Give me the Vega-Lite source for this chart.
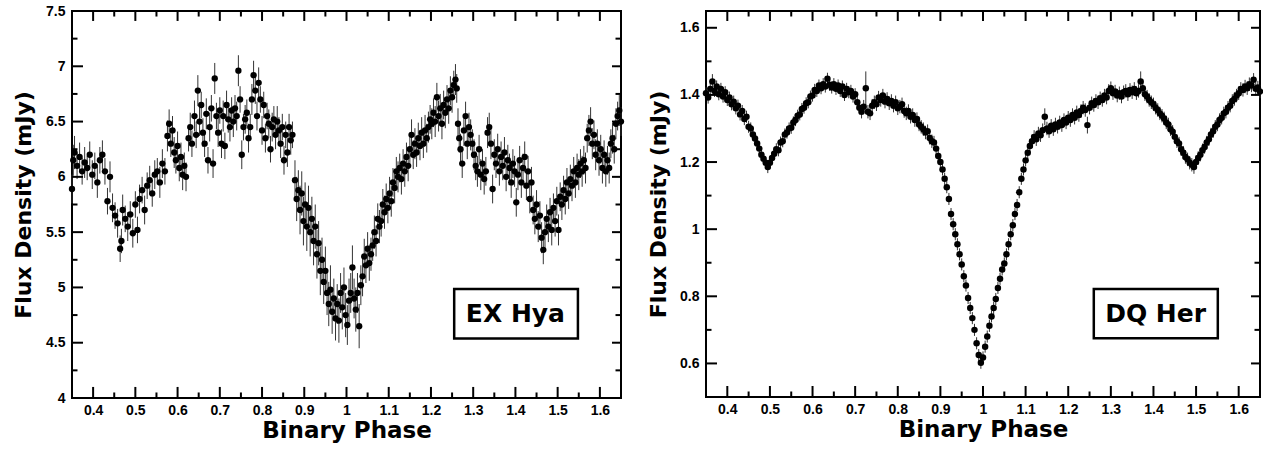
{
"$schema": "https://vega.github.io/schema/vega-lite/v6.json",
"background": "white",
"padding": {"left": 11, "top": 3, "right": 2, "bottom": 0},
"spacing": 20,
"config": {
 "view": {"stroke": "black", "strokeWidth": 2},
 "axis": {"domain": false, "grid": false, "ticks": false, "labelFont": "Liberation Sans", "labelFontWeight": "bold", "labelFontSize": 14, "labelColor": "black", "labelFlush": false, "labelOverlap": false, "titleFont": "DejaVu Sans", "titleFontWeight": "bold", "titleColor": "black"}
},
"datasets": {
 "xmaj": [{"phase":0.4},{"phase":0.5},{"phase":0.6},{"phase":0.7},{"phase":0.8},{"phase":0.9},{"phase":1.0},{"phase":1.1},{"phase":1.2},{"phase":1.3},{"phase":1.4},{"phase":1.5},{"phase":1.6}],
 "xmin": [{"phase":0.45},{"phase":0.55},{"phase":0.65},{"phase":0.75},{"phase":0.85},{"phase":0.95},{"phase":1.05},{"phase":1.15},{"phase":1.25},{"phase":1.35},{"phase":1.45},{"phase":1.55}],
 "eymaj": [{"flux":4.5},{"flux":5},{"flux":5.5},{"flux":6},{"flux":6.5},{"flux":7}],
 "eymin": [{"flux":4.25},{"flux":4.75},{"flux":5.25},{"flux":5.75},{"flux":6.25},{"flux":6.75},{"flux":7.25}],
 "dymaj": [{"flux":0.6},{"flux":0.8},{"flux":1.0},{"flux":1.2},{"flux":1.4},{"flux":1.6}],
 "dymin": [{"flux":0.7},{"flux":0.9},{"flux":1.1},{"flux":1.3},{"flux":1.5}],
 "exhya": [
{"phase":0.350,"flux":5.89,"err":0.13},{"phase":0.353,"flux":6.15,"err":0.14},{"phase":0.356,"flux":6.22,"err":0.15},{"phase":0.362,"flux":6.10,"err":0.12},{"phase":0.368,"flux":6.18,"err":0.13},{"phase":0.374,"flux":6.05,"err":0.12},{"phase":0.380,"flux":6.13,"err":0.14},{"phase":0.386,"flux":6.08,"err":0.11},{"phase":0.392,"flux":6.20,"err":0.12},{"phase":0.398,"flux":6.02,"err":0.13},{"phase":0.404,"flux":6.10,"err":0.12},{"phase":0.410,"flux":5.95,"err":0.14},{"phase":0.416,"flux":6.15,"err":0.12},{"phase":0.422,"flux":6.20,"err":0.13},{"phase":0.428,"flux":6.05,"err":0.12},{"phase":0.434,"flux":5.78,"err":0.12},{"phase":0.440,"flux":6.00,"err":0.14},{"phase":0.446,"flux":5.72,"err":0.13},{"phase":0.452,"flux":5.65,"err":0.12},{"phase":0.458,"flux":5.58,"err":0.13},{"phase":0.464,"flux":5.35,"err":0.12},{"phase":0.467,"flux":5.42,"err":0.11},{"phase":0.470,"flux":5.70,"err":0.14},{"phase":0.476,"flux":5.62,"err":0.12},{"phase":0.482,"flux":5.55,"err":0.13},{"phase":0.488,"flux":5.66,"err":0.12},{"phase":0.494,"flux":5.49,"err":0.13},{"phase":0.500,"flux":5.75,"err":0.12},{"phase":0.505,"flux":5.52,"err":0.12},{"phase":0.510,"flux":5.80,"err":0.13},{"phase":0.516,"flux":5.88,"err":0.12},{"phase":0.522,"flux":5.70,"err":0.13},{"phase":0.528,"flux":5.92,"err":0.12},{"phase":0.534,"flux":5.97,"err":0.13},{"phase":0.540,"flux":5.85,"err":0.12},{"phase":0.546,"flux":6.02,"err":0.13},{"phase":0.552,"flux":6.05,"err":0.12},{"phase":0.558,"flux":5.95,"err":0.14},{"phase":0.564,"flux":6.12,"err":0.13},{"phase":0.570,"flux":6.05,"err":0.12},{"phase":0.576,"flux":6.37,"err":0.14},{"phase":0.580,"flux":6.48,"err":0.13},{"phase":0.584,"flux":6.30,"err":0.12},{"phase":0.588,"flux":6.42,"err":0.13},{"phase":0.592,"flux":6.22,"err":0.14},{"phase":0.596,"flux":6.15,"err":0.12},{"phase":0.600,"flux":6.28,"err":0.13},{"phase":0.604,"flux":6.08,"err":0.12},{"phase":0.608,"flux":6.18,"err":0.13},{"phase":0.612,"flux":6.02,"err":0.14},{"phase":0.616,"flux":6.10,"err":0.12},{"phase":0.620,"flux":6.00,"err":0.13},{"phase":0.626,"flux":6.35,"err":0.12},{"phase":0.630,"flux":6.45,"err":0.13},{"phase":0.634,"flux":6.30,"err":0.12},{"phase":0.640,"flux":6.55,"err":0.14},{"phase":0.644,"flux":6.38,"err":0.12},{"phase":0.648,"flux":6.78,"err":0.14},{"phase":0.652,"flux":6.50,"err":0.13},{"phase":0.656,"flux":6.65,"err":0.12},{"phase":0.660,"flux":6.40,"err":0.13},{"phase":0.664,"flux":6.30,"err":0.12},{"phase":0.668,"flux":6.57,"err":0.14},{"phase":0.672,"flux":6.15,"err":0.12},{"phase":0.676,"flux":6.45,"err":0.13},{"phase":0.680,"flux":6.62,"err":0.12},{"phase":0.684,"flux":6.12,"err":0.13},{"phase":0.688,"flux":6.89,"err":0.14},{"phase":0.692,"flux":6.55,"err":0.12},{"phase":0.696,"flux":6.40,"err":0.13},{"phase":0.700,"flux":6.60,"err":0.12},{"phase":0.704,"flux":6.30,"err":0.13},{"phase":0.708,"flux":6.55,"err":0.14},{"phase":0.712,"flux":6.28,"err":0.12},{"phase":0.716,"flux":6.65,"err":0.13},{"phase":0.720,"flux":6.52,"err":0.12},{"phase":0.724,"flux":6.45,"err":0.13},{"phase":0.728,"flux":6.60,"err":0.12},{"phase":0.732,"flux":6.50,"err":0.14},{"phase":0.736,"flux":6.62,"err":0.12},{"phase":0.740,"flux":6.55,"err":0.13},{"phase":0.744,"flux":6.96,"err":0.14},{"phase":0.748,"flux":6.70,"err":0.12},{"phase":0.752,"flux":6.20,"err":0.13},{"phase":0.756,"flux":6.45,"err":0.12},{"phase":0.760,"flux":6.52,"err":0.13},{"phase":0.764,"flux":6.58,"err":0.12},{"phase":0.768,"flux":6.35,"err":0.13},{"phase":0.772,"flux":6.45,"err":0.12},{"phase":0.776,"flux":6.70,"err":0.14},{"phase":0.780,"flux":6.92,"err":0.13},{"phase":0.784,"flux":6.78,"err":0.12},{"phase":0.788,"flux":6.55,"err":0.13},{"phase":0.792,"flux":6.85,"err":0.14},{"phase":0.796,"flux":6.70,"err":0.12},{"phase":0.800,"flux":6.42,"err":0.13},{"phase":0.804,"flux":6.65,"err":0.12},{"phase":0.808,"flux":6.35,"err":0.13},{"phase":0.812,"flux":6.55,"err":0.12},{"phase":0.816,"flux":6.48,"err":0.13},{"phase":0.820,"flux":6.25,"err":0.12},{"phase":0.824,"flux":6.45,"err":0.13},{"phase":0.828,"flux":6.52,"err":0.12},{"phase":0.832,"flux":6.38,"err":0.13},{"phase":0.836,"flux":6.50,"err":0.14},{"phase":0.840,"flux":6.42,"err":0.12},{"phase":0.844,"flux":6.30,"err":0.13},{"phase":0.848,"flux":6.45,"err":0.12},{"phase":0.852,"flux":6.15,"err":0.13},{"phase":0.856,"flux":6.38,"err":0.12},{"phase":0.860,"flux":6.22,"err":0.13},{"phase":0.864,"flux":6.45,"err":0.12},{"phase":0.868,"flux":6.33,"err":0.13},{"phase":0.872,"flux":6.38,"err":0.12},{"phase":0.878,"flux":5.97,"err":0.18},{"phase":0.882,"flux":5.80,"err":0.20},{"phase":0.886,"flux":5.88,"err":0.18},{"phase":0.890,"flux":5.70,"err":0.22},{"phase":0.894,"flux":5.85,"err":0.20},{"phase":0.898,"flux":5.60,"err":0.22},{"phase":0.902,"flux":5.75,"err":0.20},{"phase":0.906,"flux":5.55,"err":0.22},{"phase":0.910,"flux":5.72,"err":0.20},{"phase":0.914,"flux":5.50,"err":0.22},{"phase":0.918,"flux":5.62,"err":0.20},{"phase":0.922,"flux":5.42,"err":0.22},{"phase":0.926,"flux":5.55,"err":0.20},{"phase":0.930,"flux":5.30,"err":0.22},{"phase":0.934,"flux":5.40,"err":0.20},{"phase":0.938,"flux":5.15,"err":0.22},{"phase":0.942,"flux":5.25,"err":0.20},{"phase":0.946,"flux":5.05,"err":0.20},{"phase":0.950,"flux":5.15,"err":0.22},{"phase":0.954,"flux":4.95,"err":0.20},{"phase":0.958,"flux":4.85,"err":0.20},{"phase":0.962,"flux":4.98,"err":0.22},{"phase":0.966,"flux":4.78,"err":0.20},{"phase":0.970,"flux":4.90,"err":0.18},{"phase":0.974,"flux":4.72,"err":0.20},{"phase":0.978,"flux":4.85,"err":0.18},{"phase":0.982,"flux":4.70,"err":0.20},{"phase":0.986,"flux":4.95,"err":0.18},{"phase":0.990,"flux":4.82,"err":0.20},{"phase":0.994,"flux":5.00,"err":0.18},{"phase":0.998,"flux":4.75,"err":0.20},{"phase":1.002,"flux":4.66,"err":0.18},{"phase":1.006,"flux":4.88,"err":0.20},{"phase":1.010,"flux":4.95,"err":0.18},{"phase":1.014,"flux":5.18,"err":0.20},{"phase":1.018,"flux":4.90,"err":0.18},{"phase":1.022,"flux":4.80,"err":0.20},{"phase":1.026,"flux":4.95,"err":0.18},{"phase":1.030,"flux":4.65,"err":0.20},{"phase":1.034,"flux":5.02,"err":0.18},{"phase":1.038,"flux":5.10,"err":0.18},{"phase":1.042,"flux":5.28,"err":0.16},{"phase":1.046,"flux":5.20,"err":0.16},{"phase":1.050,"flux":5.35,"err":0.15},{"phase":1.054,"flux":5.22,"err":0.16},{"phase":1.058,"flux":5.30,"err":0.15},{"phase":1.062,"flux":5.38,"err":0.14},{"phase":1.066,"flux":5.50,"err":0.15},{"phase":1.070,"flux":5.42,"err":0.14},{"phase":1.074,"flux":5.62,"err":0.14},{"phase":1.078,"flux":5.55,"err":0.15},{"phase":1.082,"flux":5.60,"err":0.14},{"phase":1.086,"flux":5.75,"err":0.14},{"phase":1.090,"flux":5.68,"err":0.15},{"phase":1.094,"flux":5.80,"err":0.14},{"phase":1.098,"flux":5.72,"err":0.14},{"phase":1.102,"flux":5.85,"err":0.15},{"phase":1.106,"flux":5.78,"err":0.14},{"phase":1.110,"flux":5.95,"err":0.13},{"phase":1.114,"flux":5.90,"err":0.14},{"phase":1.118,"flux":6.05,"err":0.13},{"phase":1.122,"flux":6.00,"err":0.14},{"phase":1.126,"flux":6.08,"err":0.13},{"phase":1.130,"flux":5.98,"err":0.14},{"phase":1.134,"flux":6.12,"err":0.13},{"phase":1.138,"flux":6.05,"err":0.14},{"phase":1.142,"flux":6.18,"err":0.13},{"phase":1.146,"flux":6.10,"err":0.14},{"phase":1.150,"flux":6.25,"err":0.13},{"phase":1.154,"flux":6.38,"err":0.14},{"phase":1.158,"flux":6.20,"err":0.13},{"phase":1.162,"flux":6.30,"err":0.14},{"phase":1.166,"flux":6.22,"err":0.13},{"phase":1.170,"flux":6.35,"err":0.14},{"phase":1.174,"flux":6.28,"err":0.13},{"phase":1.178,"flux":6.40,"err":0.14},{"phase":1.182,"flux":6.30,"err":0.13},{"phase":1.186,"flux":6.42,"err":0.14},{"phase":1.190,"flux":6.35,"err":0.13},{"phase":1.194,"flux":6.45,"err":0.14},{"phase":1.198,"flux":6.52,"err":0.13},{"phase":1.202,"flux":6.48,"err":0.14},{"phase":1.206,"flux":6.58,"err":0.13},{"phase":1.210,"flux":6.50,"err":0.14},{"phase":1.214,"flux":6.72,"err":0.13},{"phase":1.218,"flux":6.55,"err":0.14},{"phase":1.222,"flux":6.62,"err":0.13},{"phase":1.226,"flux":6.48,"err":0.14},{"phase":1.230,"flux":6.65,"err":0.13},{"phase":1.234,"flux":6.58,"err":0.14},{"phase":1.238,"flux":6.70,"err":0.13},{"phase":1.242,"flux":6.62,"err":0.14},{"phase":1.246,"flux":6.78,"err":0.13},{"phase":1.250,"flux":6.72,"err":0.14},{"phase":1.254,"flux":6.83,"err":0.13},{"phase":1.258,"flux":6.88,"err":0.14},{"phase":1.261,"flux":6.80,"err":0.13},{"phase":1.264,"flux":6.48,"err":0.14},{"phase":1.267,"flux":6.35,"err":0.13},{"phase":1.270,"flux":6.25,"err":0.14},{"phase":1.274,"flux":6.12,"err":0.13},{"phase":1.278,"flux":6.42,"err":0.14},{"phase":1.282,"flux":6.55,"err":0.13},{"phase":1.286,"flux":6.30,"err":0.14},{"phase":1.290,"flux":6.45,"err":0.13},{"phase":1.294,"flux":6.38,"err":0.14},{"phase":1.298,"flux":6.30,"err":0.13},{"phase":1.302,"flux":6.20,"err":0.14},{"phase":1.306,"flux":6.10,"err":0.13},{"phase":1.310,"flux":6.05,"err":0.14},{"phase":1.314,"flux":6.25,"err":0.13},{"phase":1.318,"flux":6.02,"err":0.14},{"phase":1.322,"flux":6.12,"err":0.13},{"phase":1.326,"flux":5.98,"err":0.14},{"phase":1.330,"flux":6.05,"err":0.13},{"phase":1.334,"flux":6.40,"err":0.14},{"phase":1.338,"flux":6.45,"err":0.13},{"phase":1.342,"flux":6.30,"err":0.14},{"phase":1.346,"flux":5.89,"err":0.13},{"phase":1.350,"flux":6.20,"err":0.14},{"phase":1.354,"flux":6.12,"err":0.13},{"phase":1.358,"flux":6.25,"err":0.14},{"phase":1.362,"flux":6.05,"err":0.13},{"phase":1.366,"flux":6.18,"err":0.14},{"phase":1.370,"flux":6.10,"err":0.13},{"phase":1.374,"flux":6.22,"err":0.14},{"phase":1.378,"flux":6.00,"err":0.13},{"phase":1.382,"flux":6.15,"err":0.14},{"phase":1.386,"flux":6.08,"err":0.13},{"phase":1.390,"flux":5.95,"err":0.14},{"phase":1.394,"flux":6.12,"err":0.13},{"phase":1.398,"flux":6.05,"err":0.14},{"phase":1.402,"flux":5.77,"err":0.13},{"phase":1.406,"flux":6.02,"err":0.14},{"phase":1.410,"flux":6.15,"err":0.13},{"phase":1.414,"flux":5.95,"err":0.14},{"phase":1.418,"flux":6.08,"err":0.13},{"phase":1.422,"flux":6.18,"err":0.14},{"phase":1.426,"flux":5.92,"err":0.13},{"phase":1.430,"flux":6.05,"err":0.14},{"phase":1.434,"flux":5.80,"err":0.13},{"phase":1.438,"flux":5.95,"err":0.14},{"phase":1.442,"flux":5.70,"err":0.13},{"phase":1.446,"flux":5.62,"err":0.14},{"phase":1.450,"flux":5.75,"err":0.13},{"phase":1.454,"flux":5.55,"err":0.14},{"phase":1.458,"flux":5.65,"err":0.13},{"phase":1.462,"flux":5.45,"err":0.14},{"phase":1.466,"flux":5.34,"err":0.13},{"phase":1.470,"flux":5.50,"err":0.14},{"phase":1.474,"flux":5.62,"err":0.13},{"phase":1.478,"flux":5.55,"err":0.14},{"phase":1.482,"flux":5.68,"err":0.13},{"phase":1.486,"flux":5.52,"err":0.14},{"phase":1.490,"flux":5.72,"err":0.13},{"phase":1.494,"flux":5.60,"err":0.14},{"phase":1.498,"flux":5.78,"err":0.13},{"phase":1.502,"flux":5.52,"err":0.14},{"phase":1.506,"flux":5.82,"err":0.13},{"phase":1.510,"flux":5.75,"err":0.14},{"phase":1.514,"flux":5.88,"err":0.13},{"phase":1.518,"flux":5.80,"err":0.14},{"phase":1.522,"flux":5.95,"err":0.13},{"phase":1.526,"flux":5.85,"err":0.14},{"phase":1.530,"flux":5.98,"err":0.13},{"phase":1.534,"flux":5.92,"err":0.14},{"phase":1.538,"flux":6.05,"err":0.13},{"phase":1.542,"flux":5.95,"err":0.14},{"phase":1.546,"flux":6.08,"err":0.13},{"phase":1.550,"flux":6.02,"err":0.14},{"phase":1.554,"flux":6.12,"err":0.13},{"phase":1.558,"flux":6.05,"err":0.14},{"phase":1.562,"flux":6.15,"err":0.13},{"phase":1.566,"flux":6.08,"err":0.14},{"phase":1.570,"flux":6.35,"err":0.13},{"phase":1.574,"flux":6.42,"err":0.14},{"phase":1.578,"flux":6.50,"err":0.13},{"phase":1.582,"flux":6.30,"err":0.14},{"phase":1.586,"flux":6.38,"err":0.13},{"phase":1.590,"flux":6.20,"err":0.14},{"phase":1.594,"flux":6.30,"err":0.13},{"phase":1.598,"flux":6.15,"err":0.14},{"phase":1.602,"flux":6.25,"err":0.13},{"phase":1.606,"flux":6.08,"err":0.14},{"phase":1.610,"flux":6.20,"err":0.13},{"phase":1.614,"flux":6.05,"err":0.14},{"phase":1.618,"flux":6.15,"err":0.13},{"phase":1.622,"flux":6.08,"err":0.14},{"phase":1.626,"flux":6.30,"err":0.13},{"phase":1.630,"flux":6.35,"err":0.14},{"phase":1.634,"flux":6.25,"err":0.13},{"phase":1.638,"flux":6.48,"err":0.14},{"phase":1.642,"flux":6.55,"err":0.13},{"phase":1.646,"flux":6.60,"err":0.14},{"phase":1.650,"flux":6.50,"err":0.13}
 ],
 "dqher": [
{"phase":0.350,"flux":1.405,"err":0.018},{"phase":0.355,"flux":1.392,"err":0.018},{"phase":0.360,"flux":1.418,"err":0.018},{"phase":0.365,"flux":1.440,"err":0.022},{"phase":0.370,"flux":1.412,"err":0.018},{"phase":0.375,"flux":1.425,"err":0.018},{"phase":0.380,"flux":1.402,"err":0.018},{"phase":0.385,"flux":1.418,"err":0.018},{"phase":0.390,"flux":1.395,"err":0.018},{"phase":0.395,"flux":1.408,"err":0.018},{"phase":0.400,"flux":1.385,"err":0.018},{"phase":0.405,"flux":1.392,"err":0.018},{"phase":0.410,"flux":1.372,"err":0.018},{"phase":0.415,"flux":1.380,"err":0.018},{"phase":0.420,"flux":1.360,"err":0.018},{"phase":0.425,"flux":1.368,"err":0.018},{"phase":0.430,"flux":1.342,"err":0.018},{"phase":0.435,"flux":1.352,"err":0.018},{"phase":0.440,"flux":1.328,"err":0.018},{"phase":0.445,"flux":1.335,"err":0.018},{"phase":0.450,"flux":1.305,"err":0.018},{"phase":0.455,"flux":1.300,"err":0.018},{"phase":0.460,"flux":1.282,"err":0.018},{"phase":0.465,"flux":1.270,"err":0.018},{"phase":0.470,"flux":1.255,"err":0.018},{"phase":0.475,"flux":1.240,"err":0.018},{"phase":0.480,"flux":1.222,"err":0.018},{"phase":0.485,"flux":1.210,"err":0.018},{"phase":0.490,"flux":1.198,"err":0.018},{"phase":0.495,"flux":1.185,"err":0.018},{"phase":0.500,"flux":1.198,"err":0.018},{"phase":0.505,"flux":1.212,"err":0.018},{"phase":0.510,"flux":1.225,"err":0.018},{"phase":0.515,"flux":1.238,"err":0.018},{"phase":0.520,"flux":1.235,"err":0.018},{"phase":0.525,"flux":1.258,"err":0.018},{"phase":0.530,"flux":1.262,"err":0.018},{"phase":0.535,"flux":1.282,"err":0.018},{"phase":0.540,"flux":1.288,"err":0.018},{"phase":0.545,"flux":1.300,"err":0.018},{"phase":0.550,"flux":1.302,"err":0.018},{"phase":0.555,"flux":1.318,"err":0.018},{"phase":0.560,"flux":1.325,"err":0.018},{"phase":0.565,"flux":1.338,"err":0.018},{"phase":0.570,"flux":1.342,"err":0.018},{"phase":0.575,"flux":1.358,"err":0.018},{"phase":0.580,"flux":1.362,"err":0.018},{"phase":0.585,"flux":1.375,"err":0.018},{"phase":0.590,"flux":1.378,"err":0.018},{"phase":0.595,"flux":1.395,"err":0.018},{"phase":0.600,"flux":1.398,"err":0.018},{"phase":0.605,"flux":1.415,"err":0.018},{"phase":0.610,"flux":1.412,"err":0.018},{"phase":0.615,"flux":1.428,"err":0.018},{"phase":0.620,"flux":1.420,"err":0.018},{"phase":0.625,"flux":1.432,"err":0.018},{"phase":0.630,"flux":1.425,"err":0.018},{"phase":0.635,"flux":1.448,"err":0.018},{"phase":0.640,"flux":1.430,"err":0.018},{"phase":0.645,"flux":1.422,"err":0.018},{"phase":0.650,"flux":1.432,"err":0.018},{"phase":0.655,"flux":1.418,"err":0.018},{"phase":0.660,"flux":1.428,"err":0.018},{"phase":0.665,"flux":1.412,"err":0.018},{"phase":0.670,"flux":1.425,"err":0.018},{"phase":0.675,"flux":1.400,"err":0.018},{"phase":0.680,"flux":1.418,"err":0.018},{"phase":0.685,"flux":1.408,"err":0.018},{"phase":0.690,"flux":1.412,"err":0.018},{"phase":0.695,"flux":1.395,"err":0.018},{"phase":0.700,"flux":1.402,"err":0.018},{"phase":0.705,"flux":1.378,"err":0.02},{"phase":0.710,"flux":1.362,"err":0.02},{"phase":0.715,"flux":1.350,"err":0.02},{"phase":0.720,"flux":1.365,"err":0.02},{"phase":0.725,"flux":1.420,"err":0.05},{"phase":0.730,"flux":1.350,"err":0.02},{"phase":0.735,"flux":1.345,"err":0.02},{"phase":0.740,"flux":1.368,"err":0.02},{"phase":0.745,"flux":1.378,"err":0.02},{"phase":0.750,"flux":1.372,"err":0.02},{"phase":0.755,"flux":1.392,"err":0.02},{"phase":0.760,"flux":1.385,"err":0.02},{"phase":0.765,"flux":1.398,"err":0.02},{"phase":0.770,"flux":1.380,"err":0.02},{"phase":0.775,"flux":1.388,"err":0.02},{"phase":0.780,"flux":1.375,"err":0.02},{"phase":0.785,"flux":1.382,"err":0.02},{"phase":0.790,"flux":1.368,"err":0.02},{"phase":0.795,"flux":1.378,"err":0.02},{"phase":0.800,"flux":1.360,"err":0.02},{"phase":0.805,"flux":1.365,"err":0.02},{"phase":0.810,"flux":1.372,"err":0.02},{"phase":0.815,"flux":1.352,"err":0.02},{"phase":0.820,"flux":1.345,"err":0.02},{"phase":0.825,"flux":1.352,"err":0.02},{"phase":0.830,"flux":1.335,"err":0.02},{"phase":0.835,"flux":1.340,"err":0.02},{"phase":0.840,"flux":1.325,"err":0.02},{"phase":0.845,"flux":1.328,"err":0.02},{"phase":0.850,"flux":1.312,"err":0.02},{"phase":0.855,"flux":1.305,"err":0.02},{"phase":0.860,"flux":1.298,"err":0.02},{"phase":0.865,"flux":1.288,"err":0.02},{"phase":0.870,"flux":1.292,"err":0.02},{"phase":0.875,"flux":1.272,"err":0.02},{"phase":0.880,"flux":1.262,"err":0.02},{"phase":0.885,"flux":1.258,"err":0.02},{"phase":0.890,"flux":1.240,"err":0.02},{"phase":0.895,"flux":1.218,"err":0.02},{"phase":0.900,"flux":1.200,"err":0.018},{"phase":0.905,"flux":1.178,"err":0.018},{"phase":0.910,"flux":1.150,"err":0.018},{"phase":0.915,"flux":1.125,"err":0.018},{"phase":0.920,"flux":1.090,"err":0.018},{"phase":0.925,"flux":1.045,"err":0.018},{"phase":0.930,"flux":1.015,"err":0.018},{"phase":0.935,"flux":0.985,"err":0.018},{"phase":0.940,"flux":0.955,"err":0.018},{"phase":0.945,"flux":0.925,"err":0.018},{"phase":0.950,"flux":0.895,"err":0.018},{"phase":0.955,"flux":0.860,"err":0.018},{"phase":0.960,"flux":0.832,"err":0.018},{"phase":0.965,"flux":0.795,"err":0.018},{"phase":0.970,"flux":0.765,"err":0.018},{"phase":0.975,"flux":0.735,"err":0.018},{"phase":0.980,"flux":0.700,"err":0.018},{"phase":0.985,"flux":0.660,"err":0.018},{"phase":0.990,"flux":0.625,"err":0.018},{"phase":0.995,"flux":0.602,"err":0.018},{"phase":1.000,"flux":0.618,"err":0.018},{"phase":1.005,"flux":0.650,"err":0.018},{"phase":1.010,"flux":0.680,"err":0.018},{"phase":1.015,"flux":0.712,"err":0.018},{"phase":1.020,"flux":0.740,"err":0.018},{"phase":1.025,"flux":0.765,"err":0.018},{"phase":1.030,"flux":0.792,"err":0.018},{"phase":1.035,"flux":0.825,"err":0.018},{"phase":1.040,"flux":0.852,"err":0.018},{"phase":1.045,"flux":0.880,"err":0.018},{"phase":1.050,"flux":0.898,"err":0.018},{"phase":1.055,"flux":0.925,"err":0.018},{"phase":1.060,"flux":0.955,"err":0.018},{"phase":1.065,"flux":0.985,"err":0.018},{"phase":1.070,"flux":1.012,"err":0.018},{"phase":1.075,"flux":1.045,"err":0.018},{"phase":1.080,"flux":1.072,"err":0.018},{"phase":1.085,"flux":1.110,"err":0.018},{"phase":1.090,"flux":1.150,"err":0.018},{"phase":1.095,"flux":1.178,"err":0.018},{"phase":1.100,"flux":1.205,"err":0.018},{"phase":1.105,"flux":1.228,"err":0.02},{"phase":1.110,"flux":1.248,"err":0.02},{"phase":1.115,"flux":1.262,"err":0.02},{"phase":1.120,"flux":1.275,"err":0.02},{"phase":1.125,"flux":1.268,"err":0.02},{"phase":1.130,"flux":1.285,"err":0.02},{"phase":1.135,"flux":1.280,"err":0.02},{"phase":1.140,"flux":1.295,"err":0.02},{"phase":1.145,"flux":1.335,"err":0.025},{"phase":1.150,"flux":1.300,"err":0.02},{"phase":1.155,"flux":1.292,"err":0.02},{"phase":1.160,"flux":1.308,"err":0.02},{"phase":1.165,"flux":1.298,"err":0.02},{"phase":1.170,"flux":1.312,"err":0.02},{"phase":1.175,"flux":1.305,"err":0.02},{"phase":1.180,"flux":1.318,"err":0.02},{"phase":1.185,"flux":1.310,"err":0.02},{"phase":1.190,"flux":1.325,"err":0.02},{"phase":1.195,"flux":1.318,"err":0.02},{"phase":1.200,"flux":1.332,"err":0.02},{"phase":1.205,"flux":1.325,"err":0.02},{"phase":1.210,"flux":1.340,"err":0.02},{"phase":1.215,"flux":1.332,"err":0.02},{"phase":1.220,"flux":1.348,"err":0.02},{"phase":1.225,"flux":1.340,"err":0.02},{"phase":1.230,"flux":1.352,"err":0.02},{"phase":1.235,"flux":1.362,"err":0.02},{"phase":1.240,"flux":1.355,"err":0.02},{"phase":1.245,"flux":1.310,"err":0.025},{"phase":1.250,"flux":1.362,"err":0.02},{"phase":1.255,"flux":1.375,"err":0.02},{"phase":1.260,"flux":1.370,"err":0.02},{"phase":1.265,"flux":1.382,"err":0.02},{"phase":1.270,"flux":1.378,"err":0.02},{"phase":1.275,"flux":1.390,"err":0.02},{"phase":1.280,"flux":1.385,"err":0.02},{"phase":1.285,"flux":1.398,"err":0.02},{"phase":1.290,"flux":1.392,"err":0.02},{"phase":1.295,"flux":1.412,"err":0.02},{"phase":1.300,"flux":1.420,"err":0.02},{"phase":1.305,"flux":1.405,"err":0.02},{"phase":1.310,"flux":1.410,"err":0.02},{"phase":1.315,"flux":1.398,"err":0.02},{"phase":1.320,"flux":1.405,"err":0.02},{"phase":1.325,"flux":1.395,"err":0.02},{"phase":1.330,"flux":1.408,"err":0.02},{"phase":1.335,"flux":1.412,"err":0.02},{"phase":1.340,"flux":1.402,"err":0.02},{"phase":1.345,"flux":1.415,"err":0.02},{"phase":1.350,"flux":1.408,"err":0.02},{"phase":1.355,"flux":1.418,"err":0.02},{"phase":1.360,"flux":1.405,"err":0.02},{"phase":1.365,"flux":1.412,"err":0.02},{"phase":1.370,"flux":1.440,"err":0.03},{"phase":1.375,"flux":1.420,"err":0.02},{"phase":1.380,"flux":1.402,"err":0.02},{"phase":1.385,"flux":1.395,"err":0.02},{"phase":1.390,"flux":1.385,"err":0.02},{"phase":1.395,"flux":1.378,"err":0.02},{"phase":1.400,"flux":1.372,"err":0.02},{"phase":1.405,"flux":1.362,"err":0.02},{"phase":1.410,"flux":1.355,"err":0.02},{"phase":1.415,"flux":1.345,"err":0.02},{"phase":1.420,"flux":1.338,"err":0.02},{"phase":1.425,"flux":1.330,"err":0.02},{"phase":1.430,"flux":1.318,"err":0.02},{"phase":1.435,"flux":1.312,"err":0.02},{"phase":1.440,"flux":1.298,"err":0.02},{"phase":1.445,"flux":1.290,"err":0.02},{"phase":1.450,"flux":1.275,"err":0.02},{"phase":1.455,"flux":1.262,"err":0.02},{"phase":1.460,"flux":1.255,"err":0.02},{"phase":1.465,"flux":1.238,"err":0.02},{"phase":1.470,"flux":1.228,"err":0.02},{"phase":1.475,"flux":1.215,"err":0.02},{"phase":1.480,"flux":1.208,"err":0.02},{"phase":1.485,"flux":1.198,"err":0.02},{"phase":1.490,"flux":1.192,"err":0.02},{"phase":1.495,"flux":1.185,"err":0.02},{"phase":1.500,"flux":1.200,"err":0.02},{"phase":1.505,"flux":1.212,"err":0.02},{"phase":1.510,"flux":1.222,"err":0.02},{"phase":1.515,"flux":1.235,"err":0.02},{"phase":1.520,"flux":1.245,"err":0.02},{"phase":1.525,"flux":1.258,"err":0.02},{"phase":1.530,"flux":1.268,"err":0.02},{"phase":1.535,"flux":1.282,"err":0.02},{"phase":1.540,"flux":1.292,"err":0.02},{"phase":1.545,"flux":1.305,"err":0.02},{"phase":1.550,"flux":1.312,"err":0.02},{"phase":1.555,"flux":1.325,"err":0.02},{"phase":1.560,"flux":1.332,"err":0.02},{"phase":1.565,"flux":1.345,"err":0.02},{"phase":1.570,"flux":1.350,"err":0.02},{"phase":1.575,"flux":1.362,"err":0.02},{"phase":1.580,"flux":1.368,"err":0.02},{"phase":1.585,"flux":1.382,"err":0.02},{"phase":1.590,"flux":1.388,"err":0.02},{"phase":1.595,"flux":1.398,"err":0.02},{"phase":1.600,"flux":1.405,"err":0.02},{"phase":1.605,"flux":1.418,"err":0.02},{"phase":1.610,"flux":1.415,"err":0.02},{"phase":1.615,"flux":1.425,"err":0.02},{"phase":1.620,"flux":1.420,"err":0.02},{"phase":1.625,"flux":1.432,"err":0.02},{"phase":1.630,"flux":1.428,"err":0.02},{"phase":1.635,"flux":1.445,"err":0.02},{"phase":1.640,"flux":1.418,"err":0.02},{"phase":1.645,"flux":1.422,"err":0.02},{"phase":1.650,"flux":1.410,"err":0.02}
 ]
},
"hconcat": [
 {
  "width": 549, "height": 387,
  "resolve": {"axis": {"x": "independent", "y": "independent"}},
  "layer": [
   {"data": {"name": "exhya"},
    "mark": {"type": "errorbar", "color": "#333", "thickness": 1},
    "encoding": {
     "x": {"field": "phase", "type": "quantitative", "scale": {"domain": [0.35, 1.65], "nice": false, "zero": false},
       "axis": {"orient": "bottom", "ticks": false, "values": [0.4,0.5,0.6,0.7,0.8,0.9,1,1.1,1.2,1.3,1.4,1.5,1.6], "format": "~g", "labelPadding": 5, "labelFont": "Liberation Sans", "labelFontWeight": "bold", "labelFontSize": 14, "labelColor": "black", "title": "Binary Phase", "titleFont": "DejaVu Sans", "titleFontWeight": "bold", "titleFontSize": 23, "titlePadding": 2}},
     "y": {"field": "flux", "type": "quantitative", "scale": {"domain": [4, 7.5], "nice": false, "zero": false},
       "axis": {"orient": "left", "ticks": false, "values": [4,4.5,5,5.5,6,6.5,7,7.5], "format": "~g", "labelPadding": 7, "labelFont": "Liberation Sans", "labelFontWeight": "bold", "labelFontSize": 14, "labelColor": "black", "title": "Flux Density (mJy)", "titleFont": "DejaVu Sans", "titleFontWeight": "bold", "titleFontSize": 22, "titlePadding": 10}},
     "yError": {"field": "err"}
    }},
   {"data": {"name": "exhya"},
    "mark": {"type": "circle", "color": "black", "size": 40, "opacity": 1},
    "encoding": {
     "x": {"field": "phase", "type": "quantitative", "scale": {"domain": [0.35, 1.65], "nice": false, "zero": false}, "axis": null},
     "y": {"field": "flux", "type": "quantitative", "scale": {"domain": [4, 7.5], "nice": false, "zero": false}, "axis": null}
    }},
   {"data": {"name": "xmaj"}, "mark": {"type": "rule", "color": "black", "strokeWidth": 2},
    "encoding": {"x": {"field": "phase", "type": "quantitative", "scale": {"domain": [0.35, 1.65], "nice": false, "zero": false}, "axis": null},
     "y": {"datum": 4, "type": "quantitative", "scale": {"domain": [4, 7.5], "nice": false, "zero": false}, "axis": null}, "y2": {"datum": 4.1}}},
   {"data": {"name": "xmaj"}, "mark": {"type": "rule", "color": "black", "strokeWidth": 2},
    "encoding": {"x": {"field": "phase", "type": "quantitative", "scale": {"domain": [0.35, 1.65], "nice": false, "zero": false}, "axis": null},
     "y": {"datum": 7.5, "type": "quantitative", "scale": {"domain": [4, 7.5], "nice": false, "zero": false}, "axis": null}, "y2": {"datum": 7.41}}},
   {"data": {"name": "xmin"}, "mark": {"type": "rule", "color": "black", "strokeWidth": 2},
    "encoding": {"x": {"field": "phase", "type": "quantitative", "scale": {"domain": [0.35, 1.65], "nice": false, "zero": false}, "axis": null},
     "y": {"datum": 4, "type": "quantitative", "scale": {"domain": [4, 7.5], "nice": false, "zero": false}, "axis": null}, "y2": {"datum": 4.05}}},
   {"data": {"name": "xmin"}, "mark": {"type": "rule", "color": "black", "strokeWidth": 2},
    "encoding": {"x": {"field": "phase", "type": "quantitative", "scale": {"domain": [0.35, 1.65], "nice": false, "zero": false}, "axis": null},
     "y": {"datum": 7.5, "type": "quantitative", "scale": {"domain": [4, 7.5], "nice": false, "zero": false}, "axis": null}, "y2": {"datum": 7.45}}},
   {"data": {"name": "eymaj"}, "mark": {"type": "rule", "color": "black", "strokeWidth": 2},
    "encoding": {"y": {"field": "flux", "type": "quantitative", "scale": {"domain": [4, 7.5], "nice": false, "zero": false}, "axis": null},
     "x": {"datum": 0.35, "type": "quantitative", "scale": {"domain": [0.35, 1.65], "nice": false, "zero": false}, "axis": null}, "x2": {"datum": 0.376}}},
   {"data": {"name": "eymaj"}, "mark": {"type": "rule", "color": "black", "strokeWidth": 2},
    "encoding": {"y": {"field": "flux", "type": "quantitative", "scale": {"domain": [4, 7.5], "nice": false, "zero": false}, "axis": null},
     "x": {"datum": 1.65, "type": "quantitative", "scale": {"domain": [0.35, 1.65], "nice": false, "zero": false}, "axis": null}, "x2": {"datum": 1.6287}}},
   {"data": {"name": "eymin"}, "mark": {"type": "rule", "color": "black", "strokeWidth": 2},
    "encoding": {"y": {"field": "flux", "type": "quantitative", "scale": {"domain": [4, 7.5], "nice": false, "zero": false}, "axis": null},
     "x": {"datum": 0.35, "type": "quantitative", "scale": {"domain": [0.35, 1.65], "nice": false, "zero": false}, "axis": null}, "x2": {"datum": 0.363}}},
   {"data": {"name": "eymin"}, "mark": {"type": "rule", "color": "black", "strokeWidth": 2},
    "encoding": {"y": {"field": "flux", "type": "quantitative", "scale": {"domain": [4, 7.5], "nice": false, "zero": false}, "axis": null},
     "x": {"datum": 1.65, "type": "quantitative", "scale": {"domain": [0.35, 1.65], "nice": false, "zero": false}, "axis": null}, "x2": {"datum": 1.637}}},
   {"data": {"values": [{}]},
    "mark": {"type": "rect", "fill": "white", "stroke": "black", "strokeWidth": 2.5},
    "encoding": {
     "x": {"datum": 1.255, "type": "quantitative", "scale": {"domain": [0.35, 1.65], "nice": false, "zero": false}, "axis": null},
     "x2": {"datum": 1.548},
     "y": {"datum": 4.985, "type": "quantitative", "scale": {"domain": [4, 7.5], "nice": false, "zero": false}, "axis": null},
     "y2": {"datum": 4.538}
    }},
   {"data": {"values": [{}]},
    "mark": {"type": "text", "font": "DejaVu Sans", "fontWeight": "bold", "fontSize": 25, "color": "black", "align": "center", "baseline": "middle"},
    "encoding": {
     "x": {"datum": 1.4, "type": "quantitative", "scale": {"domain": [0.35, 1.65], "nice": false, "zero": false}, "axis": null},
     "y": {"datum": 4.76, "type": "quantitative", "scale": {"domain": [4, 7.5], "nice": false, "zero": false}, "axis": null},
     "text": {"value": "EX Hya"}
    }}
  ]
 },
 {
  "width": 554, "height": 386,
  "resolve": {"axis": {"x": "independent", "y": "independent"}},
  "layer": [
   {"data": {"name": "dqher"},
    "mark": {"type": "errorbar", "color": "#333", "thickness": 1},
    "encoding": {
     "x": {"field": "phase", "type": "quantitative", "scale": {"domain": [0.35, 1.65], "nice": false, "zero": false},
       "axis": {"orient": "bottom", "ticks": false, "values": [0.4,0.5,0.6,0.7,0.8,0.9,1,1.1,1.2,1.3,1.4,1.5,1.6], "format": "~g", "labelPadding": 5, "labelFont": "Liberation Sans", "labelFontWeight": "bold", "labelFontSize": 14, "labelColor": "black", "title": "Binary Phase", "titleFont": "DejaVu Sans", "titleFontWeight": "bold", "titleFontSize": 23, "titlePadding": 2}},
     "y": {"field": "flux", "type": "quantitative", "scale": {"domain": [0.5, 1.65], "nice": false, "zero": false},
       "axis": {"orient": "left", "ticks": false, "values": [0.6,0.8,1,1.2,1.4,1.6], "format": "~g", "labelPadding": 7, "labelFont": "Liberation Sans", "labelFontWeight": "bold", "labelFontSize": 14, "labelColor": "black", "title": "Flux Density (mJy)", "titleFont": "DejaVu Sans", "titleFontWeight": "bold", "titleFontSize": 22, "titlePadding": 9}},
     "yError": {"field": "err"}
    }},
   {"data": {"name": "dqher"},
    "mark": {"type": "circle", "color": "black", "size": 42, "opacity": 1},
    "encoding": {
     "x": {"field": "phase", "type": "quantitative", "scale": {"domain": [0.35, 1.65], "nice": false, "zero": false}, "axis": null},
     "y": {"field": "flux", "type": "quantitative", "scale": {"domain": [0.5, 1.65], "nice": false, "zero": false}, "axis": null}
    }},
   {"data": {"name": "xmaj"}, "mark": {"type": "rule", "color": "black", "strokeWidth": 2},
    "encoding": {"x": {"field": "phase", "type": "quantitative", "scale": {"domain": [0.35, 1.65], "nice": false, "zero": false}, "axis": null},
     "y": {"datum": 0.5, "type": "quantitative", "scale": {"domain": [0.5, 1.65], "nice": false, "zero": false}, "axis": null}, "y2": {"datum": 0.5328}}},
   {"data": {"name": "xmaj"}, "mark": {"type": "rule", "color": "black", "strokeWidth": 2},
    "encoding": {"x": {"field": "phase", "type": "quantitative", "scale": {"domain": [0.35, 1.65], "nice": false, "zero": false}, "axis": null},
     "y": {"datum": 1.65, "type": "quantitative", "scale": {"domain": [0.5, 1.65], "nice": false, "zero": false}, "axis": null}, "y2": {"datum": 1.6202}}},
   {"data": {"name": "xmin"}, "mark": {"type": "rule", "color": "black", "strokeWidth": 2},
    "encoding": {"x": {"field": "phase", "type": "quantitative", "scale": {"domain": [0.35, 1.65], "nice": false, "zero": false}, "axis": null},
     "y": {"datum": 0.5, "type": "quantitative", "scale": {"domain": [0.5, 1.65], "nice": false, "zero": false}, "axis": null}, "y2": {"datum": 0.5164}}},
   {"data": {"name": "xmin"}, "mark": {"type": "rule", "color": "black", "strokeWidth": 2},
    "encoding": {"x": {"field": "phase", "type": "quantitative", "scale": {"domain": [0.35, 1.65], "nice": false, "zero": false}, "axis": null},
     "y": {"datum": 1.65, "type": "quantitative", "scale": {"domain": [0.5, 1.65], "nice": false, "zero": false}, "axis": null}, "y2": {"datum": 1.6336}}},
   {"data": {"name": "dymaj"}, "mark": {"type": "rule", "color": "black", "strokeWidth": 2},
    "encoding": {"y": {"field": "flux", "type": "quantitative", "scale": {"domain": [0.5, 1.65], "nice": false, "zero": false}, "axis": null},
     "x": {"datum": 0.35, "type": "quantitative", "scale": {"domain": [0.35, 1.65], "nice": false, "zero": false}, "axis": null}, "x2": {"datum": 0.3758}}},
   {"data": {"name": "dymaj"}, "mark": {"type": "rule", "color": "black", "strokeWidth": 2},
    "encoding": {"y": {"field": "flux", "type": "quantitative", "scale": {"domain": [0.5, 1.65], "nice": false, "zero": false}, "axis": null},
     "x": {"datum": 1.65, "type": "quantitative", "scale": {"domain": [0.35, 1.65], "nice": false, "zero": false}, "axis": null}, "x2": {"datum": 1.6289}}},
   {"data": {"name": "dymin"}, "mark": {"type": "rule", "color": "black", "strokeWidth": 2},
    "encoding": {"y": {"field": "flux", "type": "quantitative", "scale": {"domain": [0.5, 1.65], "nice": false, "zero": false}, "axis": null},
     "x": {"datum": 0.35, "type": "quantitative", "scale": {"domain": [0.35, 1.65], "nice": false, "zero": false}, "axis": null}, "x2": {"datum": 0.3629}}},
   {"data": {"name": "dymin"}, "mark": {"type": "rule", "color": "black", "strokeWidth": 2},
    "encoding": {"y": {"field": "flux", "type": "quantitative", "scale": {"domain": [0.5, 1.65], "nice": false, "zero": false}, "axis": null},
     "x": {"datum": 1.65, "type": "quantitative", "scale": {"domain": [0.35, 1.65], "nice": false, "zero": false}, "axis": null}, "x2": {"datum": 1.6371}}},
   {"data": {"values": [{}]},
    "mark": {"type": "rect", "fill": "white", "stroke": "black", "strokeWidth": 2.5},
    "encoding": {
     "x": {"datum": 1.26, "type": "quantitative", "scale": {"domain": [0.35, 1.65], "nice": false, "zero": false}, "axis": null},
     "x2": {"datum": 1.551},
     "y": {"datum": 0.822, "type": "quantitative", "scale": {"domain": [0.5, 1.65], "nice": false, "zero": false}, "axis": null},
     "y2": {"datum": 0.675}
    }},
   {"data": {"values": [{}]},
    "mark": {"type": "text", "font": "DejaVu Sans", "fontWeight": "bold", "fontSize": 25, "color": "black", "align": "center", "baseline": "middle"},
    "encoding": {
     "x": {"datum": 1.405, "type": "quantitative", "scale": {"domain": [0.35, 1.65], "nice": false, "zero": false}, "axis": null},
     "y": {"datum": 0.748, "type": "quantitative", "scale": {"domain": [0.5, 1.65], "nice": false, "zero": false}, "axis": null},
     "text": {"value": "DQ Her"}
    }}
  ]
 }
]
}
